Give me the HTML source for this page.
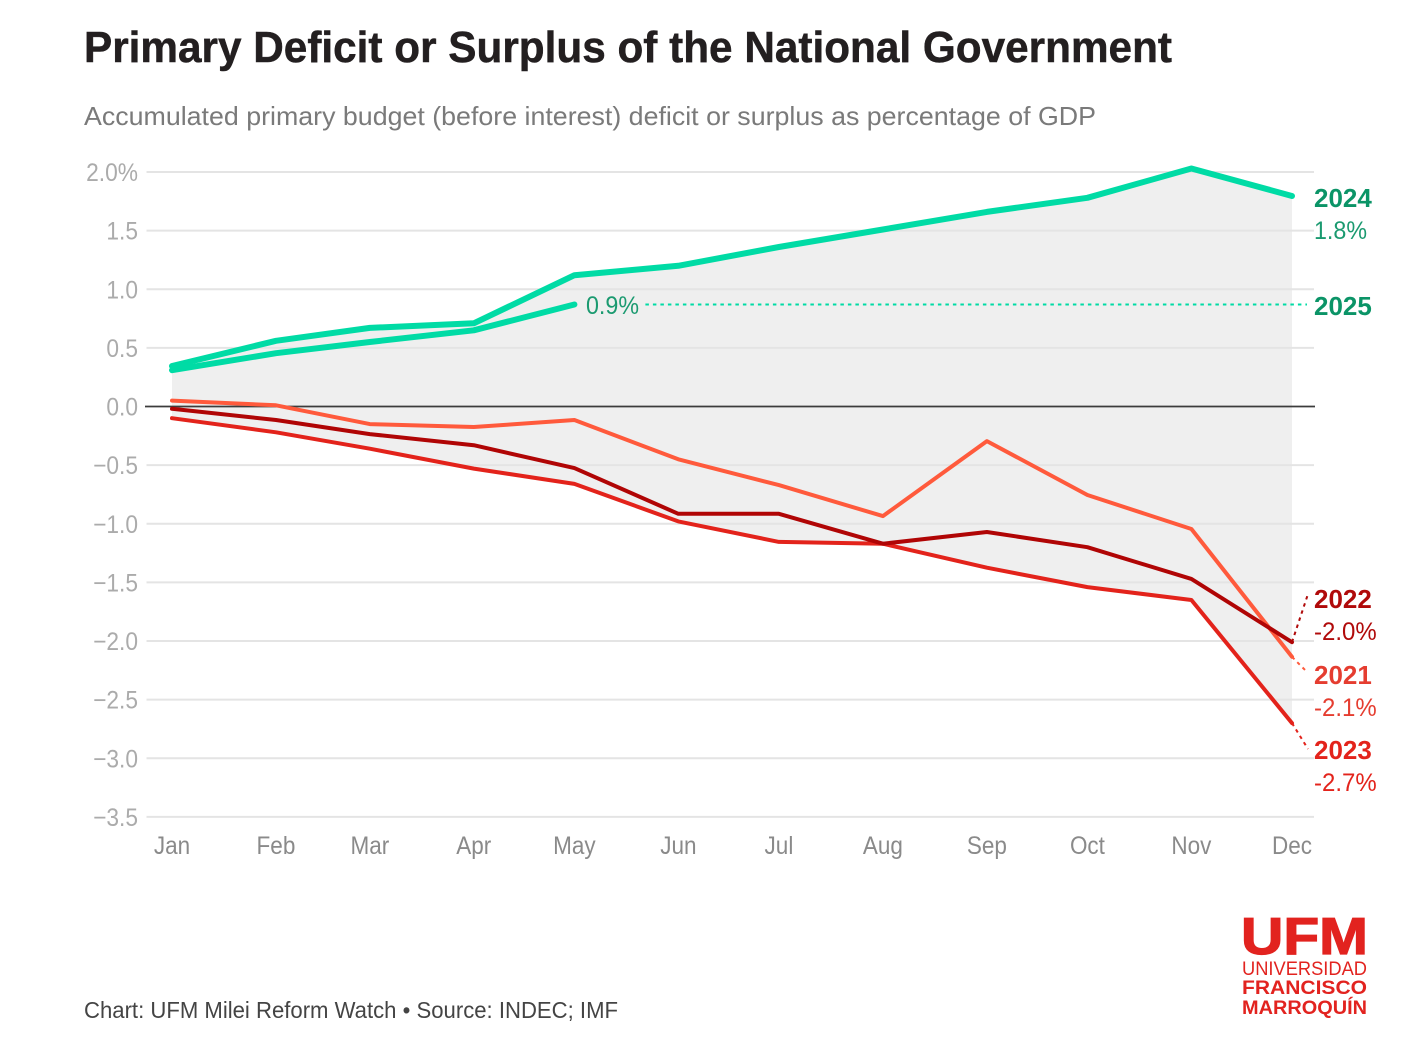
<!DOCTYPE html>
<html lang="en">
<head>
<meta charset="utf-8">
<title>Primary Deficit or Surplus of the National Government</title>
<style>
html,body{margin:0;padding:0;background:#fff;width:1420px;height:1046px;overflow:hidden}
svg{display:block;font-family:"Liberation Sans",sans-serif;filter:blur(0.35px)}
</style>
</head>
<body>
<svg id="chart" xmlns="http://www.w3.org/2000/svg" width="1420" height="1046" viewBox="0 0 1420 1046">
  <text x="84" y="62" font-size="44" font-weight="700" fill="#231f20" stroke="#231f20" stroke-width="0.5" textLength="1088" lengthAdjust="spacingAndGlyphs">Primary Deficit or Surplus of the National Government</text>
  <text x="84" y="125" font-size="26" fill="#7a7a7a" textLength="1012" lengthAdjust="spacingAndGlyphs">Accumulated primary budget (before interest) deficit or surplus as percentage of GDP</text>
  <g id="plot"></g>
  <text x="84" y="1018" font-size="23" fill="#444444" textLength="534" lengthAdjust="spacingAndGlyphs">Chart: UFM Milei Reform Watch • Source: INDEC; IMF</text>
  <g fill="#e2231f">
    <text x="1241" y="954" font-size="52" font-weight="700" stroke="#e2231f" stroke-width="1.2" textLength="127" lengthAdjust="spacingAndGlyphs">UFM</text>
    <text x="1242" y="975" font-size="19" textLength="125" lengthAdjust="spacingAndGlyphs">UNIVERSIDAD</text>
    <text x="1242" y="994" font-size="19" font-weight="700" textLength="125" lengthAdjust="spacingAndGlyphs">FRANCISCO</text>
    <text x="1242" y="1014" font-size="19" font-weight="700" textLength="125" lengthAdjust="spacingAndGlyphs">MARROQUÍN</text>
  </g>
</svg>
<script>
// Chart data
const months = ['Jan','Feb','Mar','Apr','May','Jun','Jul','Aug','Sep','Oct','Nov','Dec'];
const monthLengths = [31,28,31,30,31,30,31,31,30,31,30];
const yTicks = [2,1.5,1,0.5,0,-0.5,-1,-1.5,-2,-2.5,-3,-3.5];
const yTickLabels = ['2.0%','1.5','1.0','0.5','0.0','−0.5','−1.0','−1.5','−2.0','−2.5','−3.0','−3.5'];
const values2021 = [0.05,0.01,-0.15,-0.175,-0.115,-0.45,-0.67,-0.935,-0.295,-0.755,-1.045,-2.135];
const values2022 = [-0.02,-0.115,-0.235,-0.33,-0.525,-0.915,-0.915,-1.17,-1.07,-1.2,-1.47,-2.01];
const values2023 = [-0.1,-0.22,-0.36,-0.53,-0.66,-0.98,-1.155,-1.17,-1.375,-1.54,-1.65,-2.7];
const values2024 = [0.345,0.56,0.67,0.71,1.12,1.2,1.36,1.51,1.66,1.78,2.03,1.795];
const values2025 = [0.31,0.455,0.55,0.65,0.87];
const endLabel2021 = '-2.1%';
const endLabel2022 = '-2.0%';
const endLabel2023 = '-2.7%';
const endLabel2024 = '1.8%';
const endLabel2025 = '0.9%';

// Axis functions
const NS = 'http://www.w3.org/2000/svg';
const plot = document.getElementById('plot');
const dayOffsets = months.map((m, i) => monthLengths.slice(0, i).reduce((a, b) => a + b, 0));
const lastDay = dayOffsets[dayOffsets.length - 1];
const xAxis = i => 172 + dayOffsets[i] / lastDay * 1120;
const yAxis = v => 406.5 - v * 117.25;
const toPoints = vals => vals.map((v, i) => xAxis(i).toFixed(1) + ',' + yAxis(v).toFixed(1)).join(' ');

function setAll(el, attrs) {
  for (const k in attrs) el.setAttribute(k, attrs[k]);
}
function squeeze(el, factor) {
  const len = el.getComputedTextLength();
  el.setAttribute('textLength', (len * factor).toFixed(1));
  el.setAttribute('lengthAdjust', 'spacingAndGlyphs');
}

// Range area
const allSeries = [values2021, values2022, values2023, values2024];
const upper = months.map((m, i) => Math.max(...allSeries.map(s => s[i])));
const lower = months.map((m, i) => Math.min(...allSeries.map(s => s[i])));
const area = document.createElementNS(NS, 'polygon');


setAll(area, {points: toPoints(upper) + ' ' + lower.map((v, i) => xAxis(i).toFixed(1) + ',' + yAxis(v).toFixed(1)).reverse().join(' '), fill: '#efefef'});
plot.appendChild(area);

// Gridlines and y tick labels
yTicks.forEach((t, i) => {
  const line = document.createElementNS(NS, 'line');
  
  
  setAll(line, {x1: t === 0 ? 145 : 146.5, x2: t === 0 ? 1315 : 1314, y1: yAxis(t), y2: yAxis(t),
    stroke: t === 0 ? '#3c3c3c' : '#e4e4e4', 'stroke-width': t === 0 ? 1.8 : 2});
  plot.appendChild(line);
  const label = document.createElementNS(NS, 'text');
  
  
  setAll(label, {x: 138, y: yAxis(t) + 9, 'font-size': 25, fill: '#ababab', 'text-anchor': 'end'});
  label.textContent = yTickLabels[i];
  plot.appendChild(label);
  squeeze(label, 0.91);
});

// Month labels
months.forEach((m, i) => {
  const label = document.createElementNS(NS, 'text');
  
  
  setAll(label, {x: xAxis(i), y: 854, 'font-size': 25, fill: '#8a8a8a', 'text-anchor': 'middle'});
  label.textContent = m;
  plot.appendChild(label);
  squeeze(label, 0.9);
});

// Connectors
function connector(name, x1, y1, x2, y2, color) {
  const line = document.createElementNS(NS, 'line');
  
  
  setAll(line, {x1, y1, x2, y2, stroke: color, 'stroke-width': 2, 'stroke-dasharray': '3.5 4'});
  plot.appendChild(line);
}
const endIdx = months.length - 1;
const dec = xAxis(endIdx);
connector('connector-2022', dec, yAxis(values2022[endIdx]), 1308, 594, '#b00a0a');
connector('connector-2021', dec, yAxis(values2021[endIdx]), 1307, 672, '#ff5a3c');
connector('connector-2023', dec, yAxis(values2023[endIdx]), 1308, 749, '#e3231b');
connector('connector-2025', xAxis(values2025.length - 1) + 71, yAxis(values2025[values2025.length - 1]), 1307, yAxis(values2025[values2025.length - 1]), '#00dba5');

// Series lines
function seriesLine(name, vals, color, width) {
  const line = document.createElementNS(NS, 'polyline');
  
  
  setAll(line, {points: toPoints(vals), fill: 'none', stroke: color, 'stroke-width': width,
    'stroke-linecap': 'round', 'stroke-linejoin': 'round'});
  plot.appendChild(line);
}
seriesLine('line-2021', values2021, '#ff5a3c', 4);
seriesLine('line-2023', values2023, '#e3231b', 4);
seriesLine('line-2022', values2022, '#b00505', 4);
seriesLine('line-2024', values2024, '#00dba5', 6);
seriesLine('line-2025', values2025, '#00dba5', 6);

// Direct labels
function dirLabel(name, str, x, y, color, bold, factor) {
  const t = document.createElementNS(NS, 'text');
  
  
  setAll(t, {x, y, 'font-size': bold ? 26 : 25, fill: color});
  if (bold) t.setAttribute('font-weight', '700');
  t.textContent = str;
  plot.appendChild(t);
  squeeze(t, factor);
}
dirLabel('label-2024', '2024', 1314, 207, '#0b9467', true, 1);
dirLabel('value-2024', endLabel2024, 1314, 239, '#1b9a70', false, 0.93);
dirLabel('label-2025', '2025', 1314, 315, '#0b9467', true, 1);
dirLabel('value-2025', endLabel2025, 586, 314, '#1b9a70', false, 0.93);
dirLabel('label-2022', '2022', 1314, 608, '#b00a0a', true, 1);
dirLabel('value-2022', endLabel2022, 1314, 640, '#b00a0a', false, 0.96);
dirLabel('label-2021', '2021', 1314, 684, '#e53d30', true, 1);
dirLabel('value-2021', endLabel2021, 1314, 716, '#e53d30', false, 0.96);
dirLabel('label-2023', '2023', 1314, 759, '#e3231b', true, 1);
dirLabel('value-2023', endLabel2023, 1314, 791, '#e3231b', false, 0.96);
</script>
</body>
</html>
